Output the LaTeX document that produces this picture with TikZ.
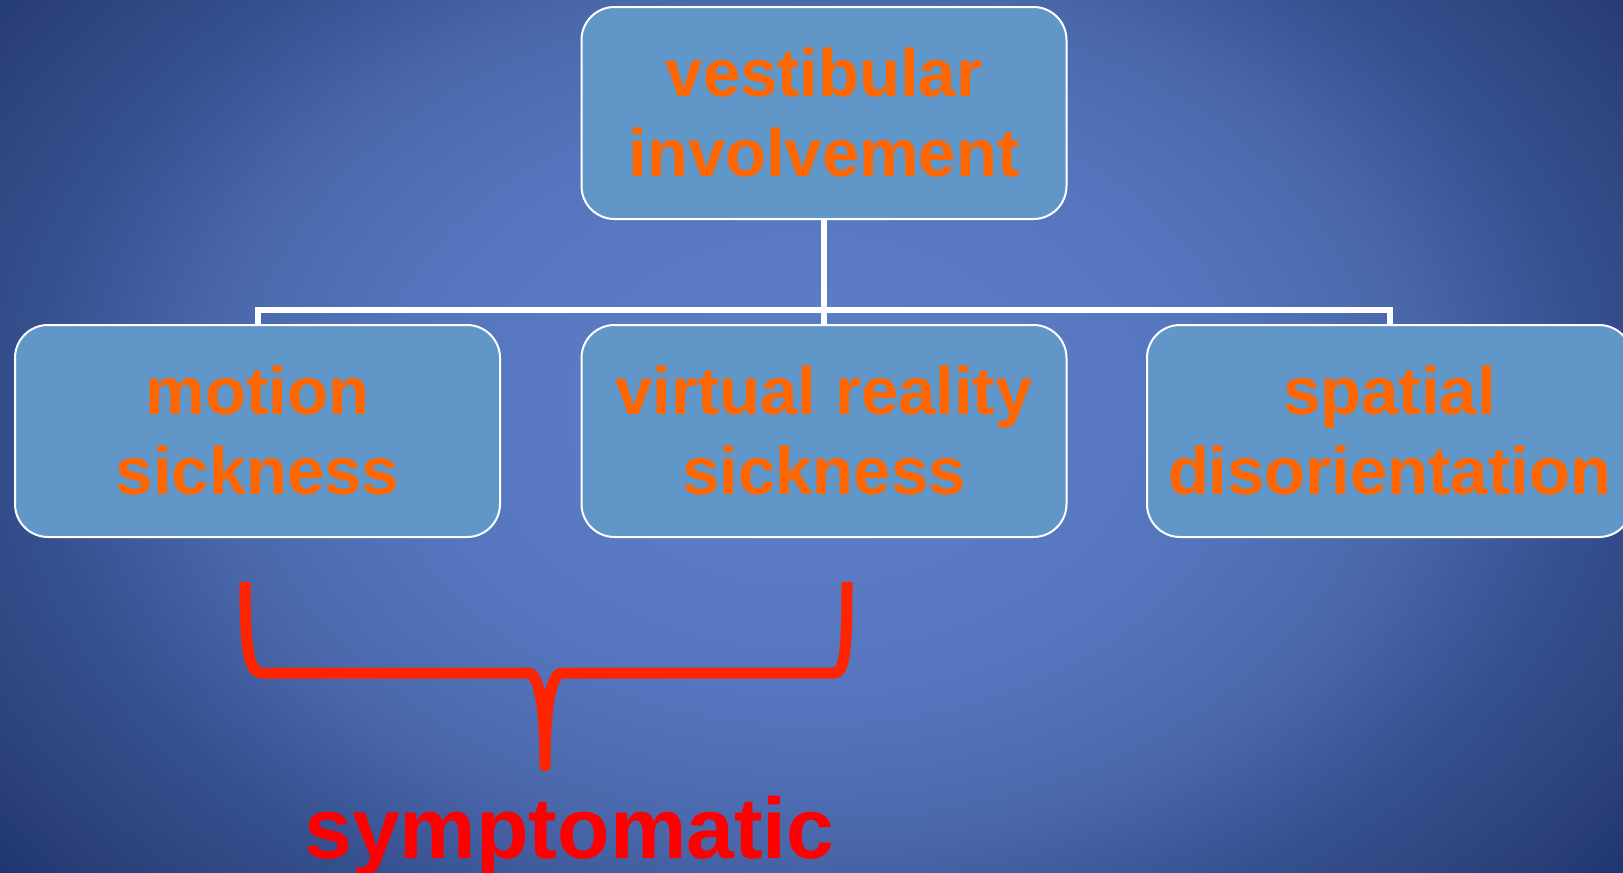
\documentclass[tikz,border=0pt]{standalone}
\usepackage{fontspec}
\setmainfont{Liberation Sans}

% palette
\definecolor{bgcore}{HTML}{5C7DC6}
\definecolor{bgnear}{HTML}{5A7AC3}
\definecolor{bgmid}{HTML}{5474BD}
\definecolor{bgfar}{HTML}{4A67AA}
\definecolor{bgdeep}{HTML}{36508F}
\definecolor{bgedge}{HTML}{2B4078}
\definecolor{bgcorner}{HTML}{213772}
\definecolor{boxblue}{HTML}{6096C8}
\definecolor{tangerine}{HTML}{FF6600}
\definecolor{bracered}{HTML}{FF2400}

% soft glow behind the chart (25bp = half extent of the shaded path)
\pgfdeclareradialshading{bgglow}{\pgfpoint{0bp}{0bp}}{%
  color(0bp)=(bgcore); color(6bp)=(bgnear); color(11bp)=(bgmid);
  color(16bp)=(bgfar); color(20.5bp)=(bgdeep); color(25bp)=(bgedge);
  color(27bp)=(bgcorner); color(50bp)=(bgcorner)}

\begin{document}
\begin{tikzpicture}[x=1pt,y=-1pt,
  box/.style={draw=white, line width=2pt, fill=boxblue, rounded corners=33pt,
    minimum width=485pt, minimum height=212pt, inner sep=0pt,
    text=tangerine, align=center,
    font=\fontsize{67}{80}\selectfont\bfseries},
  link/.style={draw=white, line width=6pt},
  bracket/.style={draw=bracered, line width=11pt, line join=round},
  caption/.style={text=red, inner sep=0pt, anchor=base,
    font=\fontsize{86}{100}\selectfont\bfseries}]

  \useasboundingbox (0,0) rectangle (1623,873);
  \clip (0,0) rectangle (1623,873);
  \shade[shading=bgglow] (-139,-270) rectangle (1761,1090);

  % hierarchy
  \node[box] (vest)    at (824,113)    {vestibular\\involvement};
  \node[box] (motion)  at (257.5,431)  {motion\\sickness};
  \node[box] (vr)      at (824,431)    {virtual reality\\sickness};
  \node[box] (spatial) at (1389.5,431) {spatial\\disorientation};

  \coordinate (bus) at (824,310);
  \draw[link] (vest.south) -- (vr.north);
  \draw[link] (motion.north) |- (bus) -| (spatial.north);

  % curly bracket grouping the first two
  \draw[bracket] (245,582)
    .. controls (245,650) and (249,673) .. (262,673)
    -- (530,673)
    .. controls (538,678) and (545,700) .. (545,766)
    .. controls (545,700) and (552,678) .. (560,673)
    -- (834,673)
    .. controls (845,673) and (847,650) .. (847,582);

  \node[caption] (sympt) at (569.5,858) {symptomatic};
\end{tikzpicture}
\end{document}
